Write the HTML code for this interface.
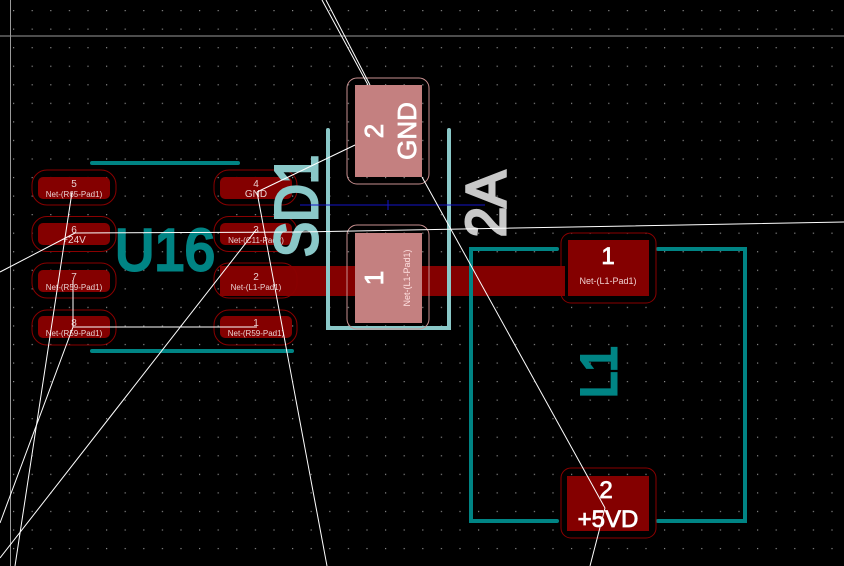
<!DOCTYPE html>
<html><head><meta charset="utf-8"><style>
html,body{margin:0;padding:0;background:#000;}
svg{display:block}
text{font-family:"Liberation Sans",sans-serif}
</style></head><body>
<svg width="844" height="566" viewBox="0 0 844 566" xmlns="http://www.w3.org/2000/svg">
<defs>
<pattern id="g" x="13" y="10" width="18.6" height="18.55" patternUnits="userSpaceOnUse">
<rect x="0" y="0" width="1.2" height="1.2" fill="#8a8a8a"/>
</pattern>
</defs>
<rect width="844" height="566" fill="#000"/>
<rect width="844" height="566" fill="url(#g)"/>
<line x1="0" y1="36" x2="844" y2="36" stroke="#9a9a9a" stroke-width="1"/>
<line x1="10.5" y1="0" x2="10.5" y2="566" stroke="#9a9a9a" stroke-width="1"/>

<rect x="220" y="266" width="345" height="30" fill="#840000"/>

<line x1="92" y1="163" x2="238" y2="163" stroke="#008484" stroke-width="4" stroke-linecap="round"/>
<line x1="92" y1="351" x2="292" y2="351" stroke="#008484" stroke-width="4" stroke-linecap="round"/>

<g fill="none" stroke="#8a0000" stroke-width="1">
<rect x="32" y="170" width="84" height="35" rx="15"/>
<rect x="32" y="216.5" width="84" height="35" rx="15"/>
<rect x="32" y="263" width="84" height="35" rx="15"/>
<rect x="32" y="310" width="84" height="35" rx="15"/>
<rect x="214" y="170" width="83" height="35" rx="15"/>
<rect x="214" y="216.5" width="83" height="35" rx="15"/>
<rect x="214" y="263" width="83" height="35" rx="15"/>
<rect x="214" y="310" width="83" height="35" rx="15"/>
</g>
<g fill="#840000">
<rect x="38" y="177" width="72" height="22" rx="5"/>
<rect x="38" y="223" width="72" height="22" rx="5"/>
<rect x="38" y="270" width="72" height="22" rx="5"/>
<rect x="38" y="316" width="72" height="22" rx="5"/>
<rect x="220" y="177" width="72" height="22" rx="5"/>
<rect x="220" y="223" width="72" height="22" rx="5"/>
<rect x="220" y="270" width="72" height="22" rx="5"/>
<rect x="220" y="316" width="72" height="22" rx="5"/>
</g>
<g fill="#e8d0d0" font-size="10" text-anchor="middle" font-family="Liberation Mono, monospace">
<text x="74" y="187">5</text><text x="74" y="197" font-size="8">Net-(R65-Pad1)</text>
<text x="74" y="233">6</text><text x="74" y="243" font-size="10">+24V</text>
<text x="74" y="280">7</text><text x="74" y="290" font-size="8">Net-(R59-Pad1)</text>
<text x="74" y="326">8</text><text x="74" y="336" font-size="8">Net-(R59-Pad1)</text>
<text x="256" y="187">4</text><text x="256" y="197" font-size="10">GND</text>
<text x="256" y="233">3</text><text x="256" y="243" font-size="8">Net-(C11-Pad2)</text>
<text x="256" y="280">2</text><text x="256" y="290" font-size="8">Net-(L1-Pad1)</text>
<text x="256" y="326">1</text><text x="256" y="336" font-size="8">Net-(R59-Pad1)</text>
</g>
<text x="115" y="270" fill="#008484" stroke="#008484" stroke-width="3" font-size="58" textLength="100" lengthAdjust="spacingAndGlyphs">U16</text>

<g stroke="#8ac8c8" stroke-width="4" fill="none" stroke-linecap="round">
<polyline points="328,130 328,328 449,328 449,130"/>
</g>
<text transform="translate(317,257) rotate(-90)" fill="#8ac8c8" stroke="#8ac8c8" stroke-width="3" font-size="60" textLength="102" lengthAdjust="spacingAndGlyphs">SD1</text>
<rect x="347" y="78" width="82" height="106" rx="10" fill="none" stroke="#c89090" stroke-width="1"/>
<rect x="355" y="85" width="67" height="92" fill="#c48080"/>
<rect x="347" y="225" width="82" height="104" rx="10" fill="none" stroke="#c89090" stroke-width="1"/>
<rect x="355" y="233" width="67" height="90" fill="#c48080"/>
<text transform="translate(383,131) rotate(-90)" fill="#fff" stroke="#fff" stroke-width="0.8" font-size="26" text-anchor="middle">2</text>
<text transform="translate(416,131) rotate(-90)" fill="#fff" stroke="#fff" stroke-width="0.8" font-size="26" text-anchor="middle">GND</text>
<text transform="translate(383,278) rotate(-90)" fill="#fff" stroke="#fff" stroke-width="0.8" font-size="26" text-anchor="middle">1</text>
<text transform="translate(410,278) rotate(-90)" fill="#ffe0e0" font-size="9" text-anchor="middle" font-family="Liberation Mono, monospace">Net-(L1-Pad1)</text>
<line x1="300" y1="205" x2="485" y2="205" stroke="#1414c8" stroke-width="1"/>
<line x1="388" y1="200" x2="388" y2="210" stroke="#1414c8" stroke-width="1"/>
<text transform="translate(505,237) rotate(-90)" fill="#c8c8c8" stroke="#c8c8c8" stroke-width="3" font-size="56" textLength="66" lengthAdjust="spacingAndGlyphs">2A</text>

<g stroke="#008484" stroke-width="4" fill="none" stroke-linecap="round">
<polyline points="557,249 471,249 471,521 557,521"/>
<polyline points="658,249 745,249 745,521 658,521"/>
</g>
<text transform="translate(616,398) rotate(-90)" fill="#008484" stroke="#008484" stroke-width="3" font-size="50" textLength="52" lengthAdjust="spacingAndGlyphs">L1</text>
<rect x="561" y="233" width="95" height="70" rx="10" fill="none" stroke="#8a0000" stroke-width="1"/>
<rect x="568" y="240" width="81" height="56" fill="#840000"/>
<text x="608" y="264" fill="#fff" stroke="#fff" stroke-width="0.8" font-size="24" text-anchor="middle">1</text>
<text x="608" y="284" fill="#f0d0d0" font-size="9" text-anchor="middle" font-family="Liberation Mono, monospace">Net-(L1-Pad1)</text>
<rect x="561" y="468" width="95" height="70" rx="10" fill="none" stroke="#8a0000" stroke-width="1"/>
<rect x="567" y="476" width="82" height="55" fill="#840000"/>
<text x="606" y="498" fill="#fff" stroke="#fff" stroke-width="0.8" font-size="24" text-anchor="middle">2</text>
<text x="608" y="527" fill="#fff" stroke="#fff" stroke-width="0.8" font-size="24" text-anchor="middle">+5VD</text>

<g stroke="#fff" stroke-width="1" fill="none">
<line x1="322" y1="0" x2="368" y2="85"/>
<line x1="326" y1="0" x2="370" y2="85"/>
<line x1="257" y1="192" x2="355" y2="145"/>
<line x1="422" y1="177" x2="605" y2="508"/>
<line x1="605" y1="508" x2="590" y2="566"/>
<polyline points="75,233 300,232 844,222"/>
<line x1="75" y1="233" x2="0" y2="272"/>
<line x1="257" y1="192" x2="327" y2="566"/>
<line x1="256" y1="230" x2="0" y2="558"/>
<line x1="72" y1="192" x2="15" y2="566"/>
<line x1="73" y1="280" x2="73" y2="327"/>
<line x1="73" y1="327" x2="257" y2="327"/>
<line x1="73" y1="327" x2="0" y2="523"/>
</g>
</svg>
</body></html>
